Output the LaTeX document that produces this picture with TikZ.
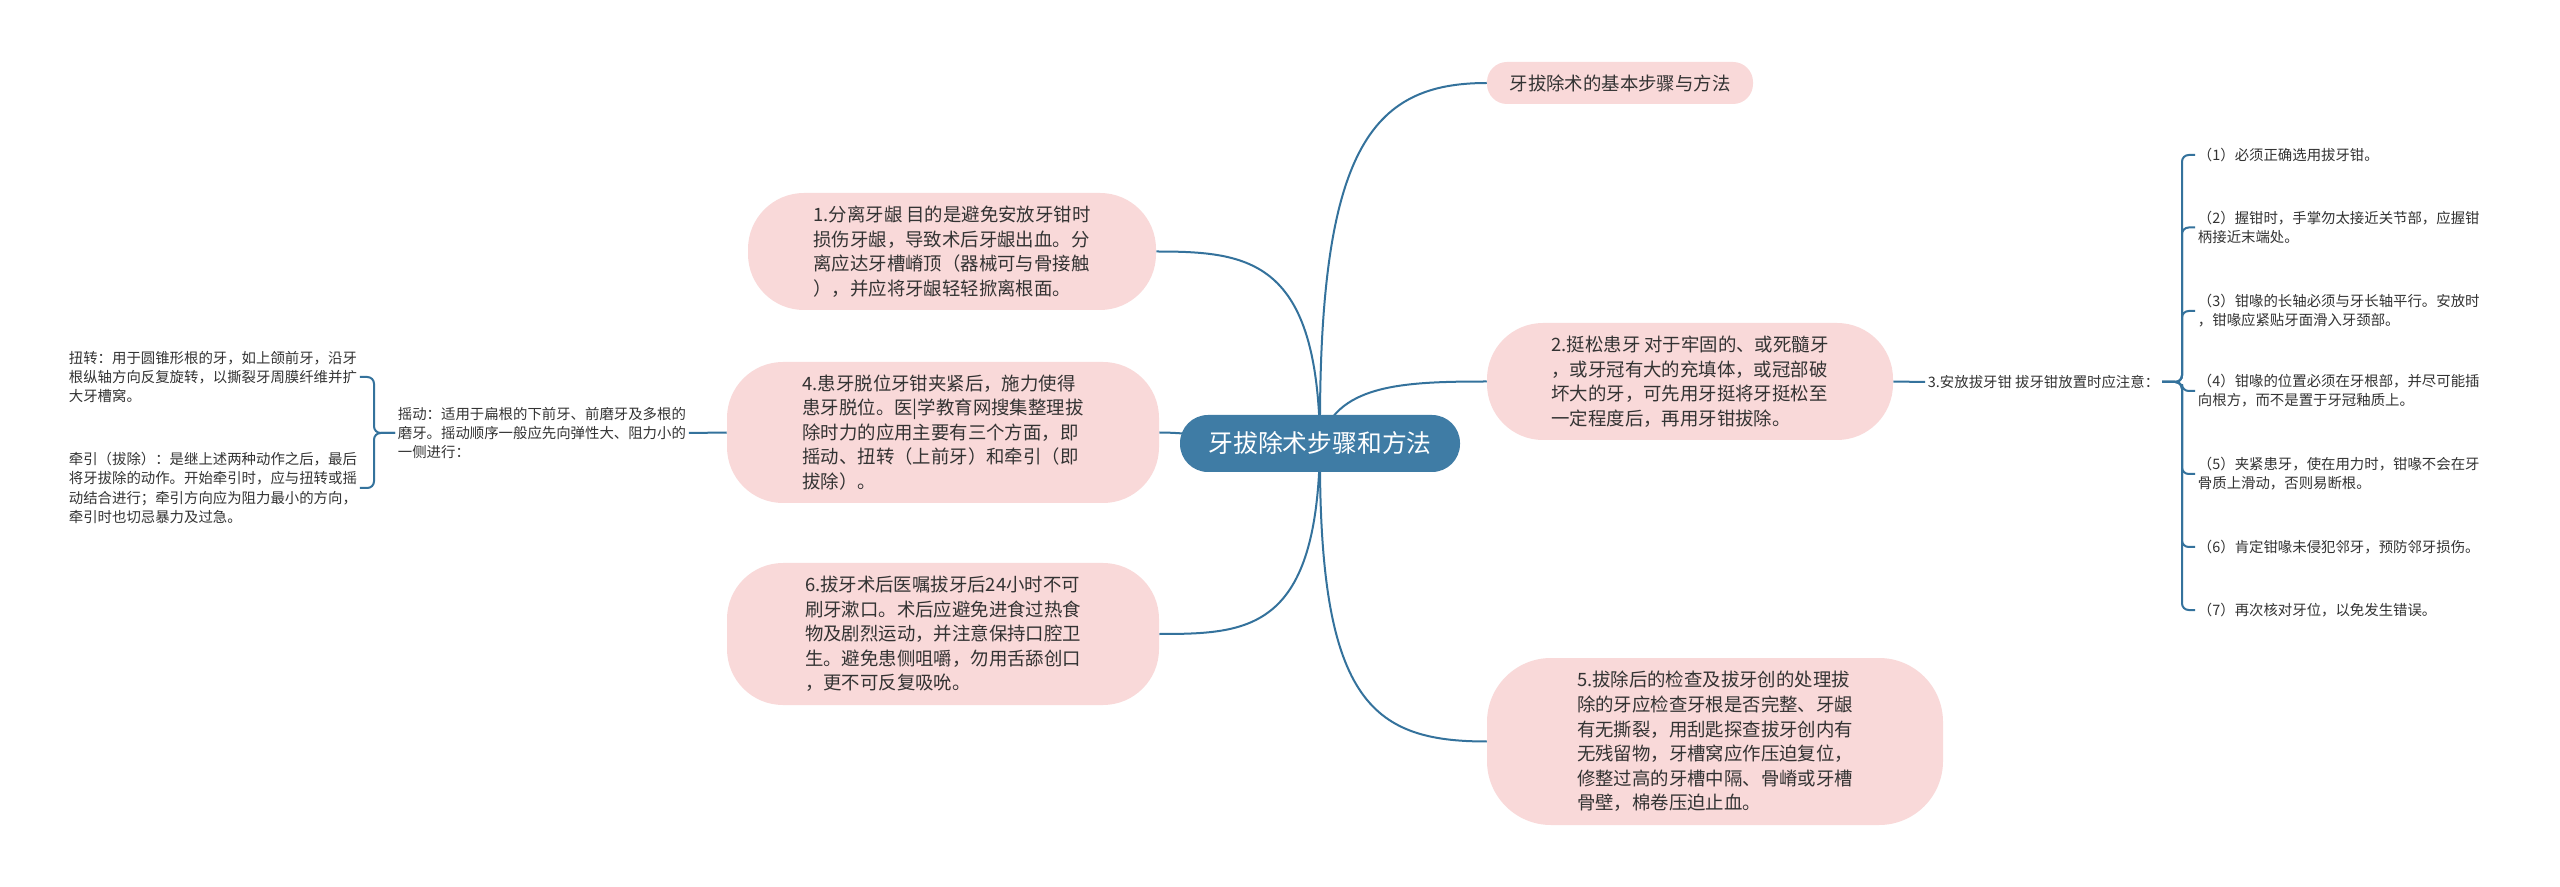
\documentclass[tikz,border=0pt]{standalone}
\usepackage{fontspec}
\setmainfont{Noto Sans CJK SC}
\usetikzlibrary{calc}
\pgfdeclarelayer{bg}
\pgfsetlayers{bg,main}
\definecolor{linec}{HTML}{34729C}
\definecolor{centerc}{HTML}{3F7CA5}
\definecolor{pinkc}{HTML}{F9D9D9}
\definecolor{textc}{HTML}{333333}
\begin{document}
\begin{tikzpicture}[x=0.75pt,y=-0.75pt,
  pinkbox/.style={fill=pinkc, text=textc, align=left, font=\fontsize{13.8pt}{18.4pt}\selectfont, inner sep=0pt, rounded corners=42pt},
  small/.style={text=textc, align=left, font=\fontsize{10.8pt}{14.4pt}\selectfont, inner sep=2pt},
  conn/.style={draw=linec, line width=1.5pt},
  brk/.style={draw=linec, line width=1.5pt, rounded corners=5pt}]
\useasboundingbox (0,0) rectangle (2560,887);

% central node
\node[fill=centerc, text=white, font=\fontsize{18.6pt}{22pt}\selectfont, rounded corners=21pt,
  minimum width=210pt, minimum height=42.75pt, inner sep=0pt] (c) at (1320,443.5) {牙拔除术步骤和方法};

% pink nodes
\node[pinkbox, rounded corners=15pt, minimum width=199.5pt, minimum height=31.5pt] (top) at (1620,83) {牙拔除术的基本步骤与方法};
\node[pinkbox, minimum width=306pt, minimum height=87.75pt] (n1) at (952,251.5) {1.分离牙龈 目的是避免安放牙钳时\\损伤牙龈，导致术后牙龈出血。分\\离应达牙槽嵴顶（器械可与骨接触\\），并应将牙龈轻轻掀离根面。};
\node[pinkbox, minimum width=324pt, minimum height=105.75pt] (n4) at (943,432.5) {4.患牙脱位牙钳夹紧后，施力使得\\患牙脱位。医|学教育网搜集整理拔\\除时力的应用主要有三个方面，即\\摇动、扭转（上前牙）和牵引（即\\拔除）。};
\node[pinkbox, minimum width=324pt, minimum height=106.5pt] (n6) at (943,634) {6.拔牙术后医嘱拔牙后24小时不可\\刷牙漱口。术后应避免进食过热食\\物及剧烈运动，并注意保持口腔卫\\生。避免患侧咀嚼，勿用舌舔创口\\，更不可反复吸吮。};
\node[pinkbox, minimum width=304.5pt, minimum height=87.75pt] (n2) at (1690,381.5) {2.挺松患牙 对于牢固的、或死髓牙\\，或牙冠有大的充填体，或冠部破\\坏大的牙，可先用牙挺将牙挺松至\\一定程度后，再用牙钳拔除。};
\node[pinkbox, rounded corners=48pt, minimum width=342pt, minimum height=125.25pt] (n5) at (1715,741.5) {5.拔除后的检查及拔牙创的处理拔\\除的牙应检查牙根是否完整、牙龈\\有无撕裂，用刮匙探查拔牙创内有\\无残留物，牙槽窝应作压迫复位，\\修整过高的牙槽中隔、骨嵴或牙槽\\骨壁，棉卷压迫止血。};

% right side detail
\node[small, anchor=west] (n3) at (1925,382) {3.安放拔牙钳 拔牙钳放置时应注意：};
\node[small, anchor=west] (r1) at (2195,155) {（1）必须正确选用拔牙钳。};
\node[small, anchor=west] (r2) at (2195,227.5) {（2）握钳时，手掌勿太接近关节部，应握钳\\柄接近末端处。};
\node[small, anchor=west] (r3) at (2195,311) {（3）钳喙的长轴必须与牙长轴平行。安放时\\，钳喙应紧贴牙面滑入牙颈部。};
\node[small, anchor=west] (r4) at (2195,391) {（4）钳喙的位置必须在牙根部，并尽可能插\\向根方，而不是置于牙冠釉质上。};
\node[small, anchor=west] (r5) at (2195,474) {（5）夹紧患牙，使在用力时，钳喙不会在牙\\骨质上滑动，否则易断根。};
\node[small, anchor=west] (r6) at (2195,547) {（6）肯定钳喙未侵犯邻牙，预防邻牙损伤。};
\node[small, anchor=west] (r7) at (2195,610) {（7）再次核对牙位，以免发生错误。};
\coordinate (rj) at (2182,382);

% left side detail
\node[small, anchor=west] (yao) at (395,433) {摇动：适用于扁根的下前牙、前磨牙及多根的\\磨牙。摇动顺序一般应先向弹性大、阻力小的\\一侧进行：};
\node[small, anchor=west] (niu) at (66,377) {扭转：用于圆锥形根的牙，如上颌前牙，沿牙\\根纵轴方向反复旋转，以撕裂牙周膜纤维并扩\\大牙槽窝。};
\node[small, anchor=west] (qian) at (66,488) {牵引（拔除）：是继上述两种动作之后，最后\\将牙拔除的动作。开始牵引时，应与扭转或摇\\动结合进行；牵引方向应为阻力最小的方向，\\牵引时也切忌暴力及过急。};
\coordinate (lj) at (374,433);

\begin{pgfonlayer}{bg}
  \fill[white] (0,0) rectangle (2560,887);
  \draw[conn] (c.center) .. controls (1318,150) and (1370,83) .. (top.west);
  \draw[conn] (c.center) .. controls (1335,385) and (1400,381.5) .. (n2.west);
  \draw[conn] (c.center) .. controls (1318,700) and (1370,741.5) .. (n5.west);
  \draw[conn] (c.center) .. controls (1318,260) and (1250,251.5) .. (n1.east);
  \draw[conn] (c.center) .. controls (1250,443.5) and (1200,432.5) .. (n4.east);
  \draw[conn] (c.center) .. controls (1318,630) and (1250,634) .. (n6.east);
  \draw[conn] (n2.east) -- (n3.west);
  \draw[conn] (n4.west) -- (yao.east);
\end{pgfonlayer}

\foreach \r in {r1,r2,r3,r4,r5,r6,r7}
  \draw[brk] (n3.east) -- (rj) |- (\r.west);
\foreach \l in {niu,qian}
  \draw[brk] (yao.west) -- (lj) |- (\l.east);
\end{tikzpicture}
\end{document}
